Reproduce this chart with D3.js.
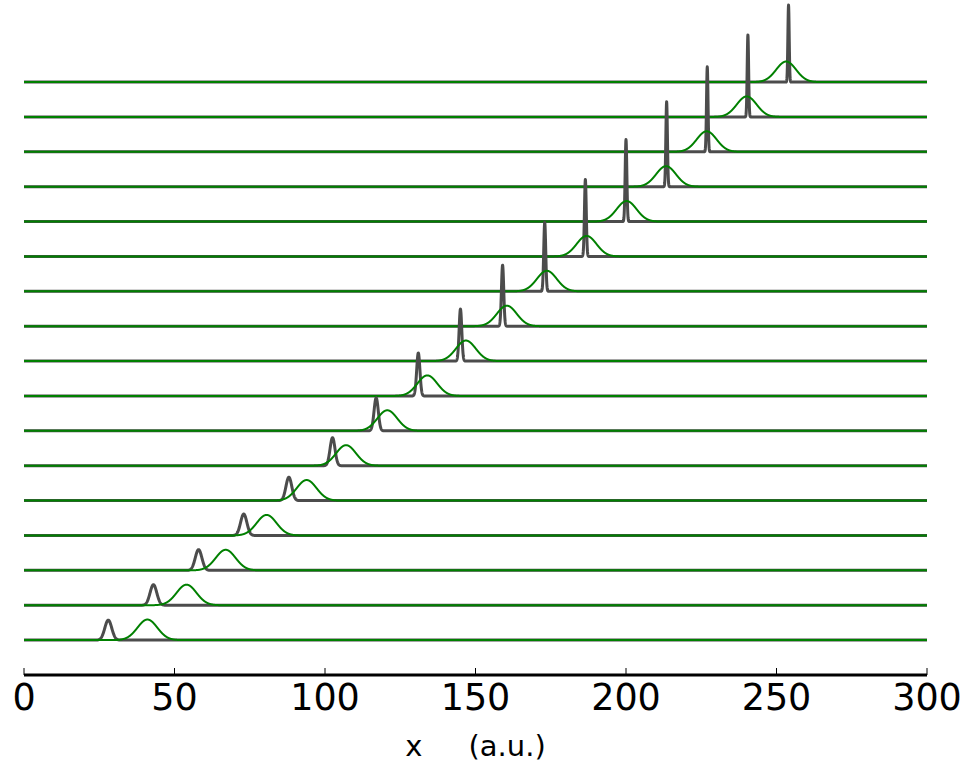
<!DOCTYPE html>
<html>
<head>
<meta charset="utf-8">
<script src="https://cdn.jsdelivr.net/npm/d3@7"></script>
<style>
    html, body { margin: 0; padding: 0; background: #fff; }
    svg { display: block; }
</style>
</head>
<body>
<div class="charts-div"></div>
<script>
// tick labels on the x axis
const xTicks = [0, 50, 100, 150, 200, 250, 300];

// one entry per trace, bottom trace first (offset = index)
const grayCenter = [28, 43, 58, 73, 88, 102.5, 117, 131, 145, 159, 173, 186.5, 200, 213.5, 227, 240.5, 254];
const grayHeight = [0.573, 0.588, 0.594, 0.614, 0.671, 0.803, 0.946, 1.233, 1.491, 1.749, 1.978, 2.208, 2.351, 2.437, 2.437, 2.351, 2.208];
const grayWidth = [1.15, 1.12, 1.1, 1.05, 0.97, 0.82, 0.7, 0.54, 0.44, 0.38, 0.33, 0.3, 0.28, 0.26, 0.25, 0.24, 0.22];

const greenCenter = [41, 54, 67, 80.6, 93.9, 107, 120.7, 134, 146.8, 160.4, 173.7, 186.9, 200.2, 213.3, 226.8, 240.1, 253.2];
const greenHeight = [0.59, 0.59, 0.59, 0.59, 0.59, 0.59, 0.59, 0.59, 0.59, 0.59, 0.59, 0.59, 0.59, 0.59, 0.59, 0.59, 0.59];
const greenWidth = [3.3, 3.3, 3.3, 3.3, 3.3, 3.3, 3.3, 3.3, 3.3, 3.3, 3.3, 3.3, 3.3, 3.3, 3.3, 3.3, 3.3];

const chartGeneration = () => {
    const width = 963,
        height = 768;

    const x = d3.scaleLinear().domain([0, 300]).range([24, 927]);
    // one unit = spacing between two traces, axis sits one unit below the first trace
    const y = d3.scaleLinear().domain([-1, 16]).range([675, 82.1]);

    const svg = d3
        .select(".charts-div")
        .append("svg")
        .attr("width", width)
        .attr("height", height);

    // sampling grid along x
    const xs = d3.range(0, 300.0001, 0.05);

    const gauss = (c, h, s) => (v) => h * Math.exp(-((v - c) * (v - c)) / (2 * s * s));

    const line = d3
        .line()
        .x((d) => x(d[0]))
        .y((d) => y(d[1]));

    const traces = svg.append("g").attr("class", "traces");

    // top trace first so lower traces sit on top of the tall spikes
    for (let k = grayCenter.length - 1; k >= 0; k--) {
        const g1 = gauss(grayCenter[k], grayHeight[k], grayWidth[k]);
        const g2 = gauss(greenCenter[k], greenHeight[k], greenWidth[k]);

        traces
            .append("path")
            .attr("d", line(xs.map((v) => [v, k + g1(v)])))
            .attr("fill", "none")
            .attr("stroke", "#4c4c4c")
            .attr("stroke-width", 3)
            .attr("stroke-linejoin", "round");

        traces
            .append("path")
            .attr("d", line(xs.map((v) => [v, k + g2(v)])))
            .attr("fill", "none")
            .attr("stroke", "#008000")
            .attr("stroke-width", 2)
            .attr("stroke-linejoin", "round");
    }

    // x axis
    const axis = svg.append("g").attr("class", "x-axis");

    axis.append("line")
        .attr("x1", x(0))
        .attr("x2", x(300))
        .attr("y1", y(-1))
        .attr("y2", y(-1))
        .attr("stroke", "#000")
        .attr("stroke-width", 3);

    axis.selectAll("line.tick")
        .data(xTicks)
        .enter()
        .append("line")
        .attr("class", "tick")
        .attr("x1", (d) => x(d))
        .attr("x2", (d) => x(d))
        .attr("y1", y(-1))
        .attr("y2", y(-1) - 7)
        .attr("stroke", "#000")
        .attr("stroke-width", 1);

    axis.selectAll("text.tick-label")
        .data(xTicks)
        .enter()
        .append("text")
        .attr("class", "tick-label")
        .attr("x", (d) => x(d))
        .attr("y", 710)
        .attr("text-anchor", "middle")
        .attr("font-family", "DejaVu Sans")
        .attr("font-size", 36.5)
        .attr("fill", "#000")
        .text((d) => d);

    svg.append("text")
        .attr("x", (x(0) + x(300)) / 2)
        .attr("y", 756)
        .attr("text-anchor", "middle")
        .attr("font-family", "DejaVu Sans")
        .attr("font-size", 29)
        .attr("fill", "#000")
        .style("white-space", "pre")
        .text("x     (a.u.)");
};

chartGeneration();
</script>
</body>
</html>
